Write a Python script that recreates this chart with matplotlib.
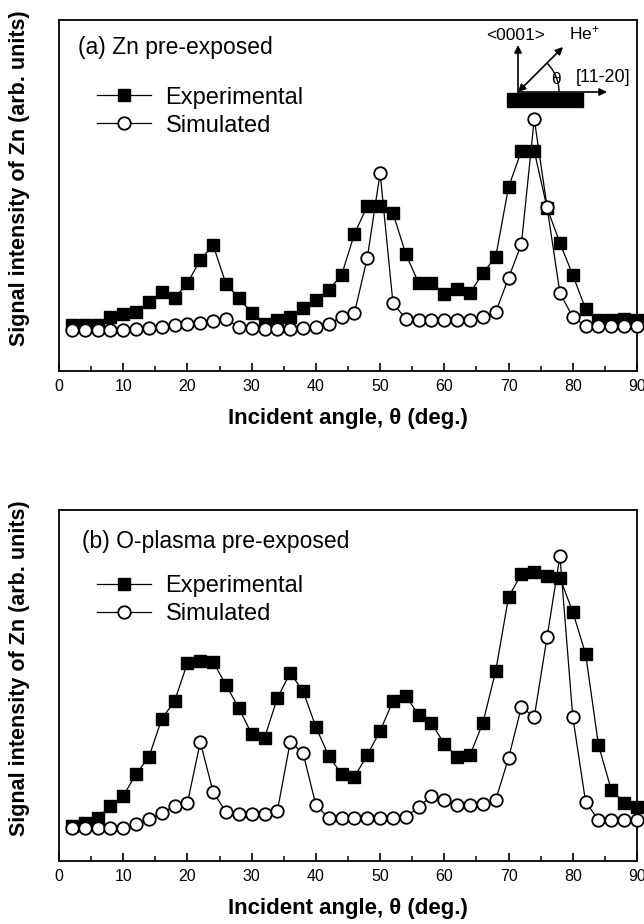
import matplotlib
matplotlib.use("Agg")
import matplotlib.pyplot as plt
from matplotlib.lines import Line2D
from matplotlib.patches import Rectangle, Arc
from matplotlib.ticker import MultipleLocator

# ---------------- data ----------------
angles = [2, 4, 6, 8, 10, 12, 14, 16, 18, 20,
          22, 24, 26, 28, 30, 32, 34, 36, 38, 40,
          42, 44, 46, 48, 50, 52, 54, 56, 58, 60,
          62, 64, 66, 68, 70, 72, 74, 76, 78, 80,
          82, 84, 86, 88, 90]

exp_a = [46, 46, 46, 54, 57, 59, 69, 79, 73, 88,
         111, 126, 87, 73, 58, 47, 51, 54, 63, 71,
         81, 96, 137, 165, 165, 158, 117, 88, 88, 77,
         82, 78, 98, 114, 184, 220, 220, 163, 128, 96,
         62, 51, 51, 52, 51]
sim_a = [41, 41, 41, 41, 41, 42, 43, 44, 46, 47,
         48, 50, 52, 44, 43, 42, 42, 42, 43, 44,
         47, 54, 58, 113, 198, 68, 52, 51, 51, 51,
         51, 51, 54, 59, 93, 127, 252, 164, 78, 54,
         45, 45, 45, 45, 45]

exp_b = [35, 38, 43, 55, 65, 87, 104, 142, 160, 198,
         200, 199, 176, 153, 127, 123, 163, 188, 170, 134,
         105, 87, 84, 106, 130, 160, 165, 146, 138, 117,
         104, 106, 138, 190, 264, 287, 289, 285, 283, 249,
         207, 116, 71, 58, 54]
sim_b = [33, 33, 33, 33, 33, 37, 42, 48, 55, 58,
         119, 69, 49, 47, 47, 47, 50, 119, 108, 56,
         43, 43, 43, 43, 43, 43, 44, 54, 65, 61,
         56, 56, 57, 61, 103, 154, 144, 224, 305, 144,
         59, 41, 41, 41, 41]

xticks = [0, 10, 20, 30, 40, 50, 60, 70, 80, 90]
xlabel = "Incident angle, θ (deg.)"
ylabel = "Signal intensity of Zn (arb. units)"
panel_titles = ["(a) Zn pre-exposed", "(b) O-plasma pre-exposed"]
legend_labels = ["Experimental", "Simulated"]

# ---------------- style ----------------
plt.rcParams['font.family'] = ['Liberation Sans', 'DejaVu Sans']
plt.rcParams['mathtext.default'] = 'regular'

W, H = 644, 924
fig = plt.figure(figsize=(W / 100, H / 100), dpi=100)


def add_ax(top_px, bottom_px):
    return fig.add_axes([59 / W, 1 - bottom_px / H, 578 / W, (bottom_px - top_px) / H])


ax_a = add_ax(20, 371)
ax_b = add_ax(510, 861)

exp_style = dict(color='black', lw=0.9, marker='s', ms=8.5, mfc='black', mec='black')
sim_style = dict(color='black', lw=0.9, marker='o', ms=9, mfc='white', mec='black', mew=1.3)

for ax, ye, ys, title, ty, tx in [(ax_a, exp_a, sim_a, panel_titles[0], 0.923, 0.033),
                                   (ax_b, exp_b, sim_b, panel_titles[1], 0.909, 0.040)]:
    ax.plot(angles, ye, clip_on=False, zorder=3, **exp_style)
    ax.plot(angles, ys, clip_on=False, zorder=4, **sim_style)
    ax.set_xlim(0, 90)
    ax.set_ylim(0, 351)
    ax.set_yticks([])
    ax.set_xticks(xticks)
    ax.xaxis.set_minor_locator(MultipleLocator(5))
    ax.tick_params(axis='x', which='major', direction='in', length=6, width=1.2,
                   labelsize=11.5, pad=6, top=False)
    ax.tick_params(axis='x', which='minor', direction='in', length=3.5, width=1.1, top=False)
    for s in ax.spines.values():
        s.set_linewidth(1.3)
    ax.set_ylabel(ylabel, fontsize=15.5, fontweight='bold')
    ax.yaxis.set_label_coords(-0.05, 0.55)
    ax.set_xlabel(xlabel, fontsize=16, fontweight='bold')
    ax.xaxis.set_label_coords(0.5, -0.105)
    ax.text(tx, ty, title, transform=ax.transAxes, fontsize=16.5, va='center', ha='left')
    handles = [Line2D([], [], **exp_style), Line2D([], [], **sim_style)]
    ax.legend(handles, legend_labels, loc='upper left', bbox_to_anchor=(0.066, 0.81 if ax is ax_a else 0.815),
              frameon=False, fontsize=17, handlelength=2.3, handletextpad=0.6,
              labelspacing=0.25, borderpad=0, borderaxespad=0, numpoints=1)

# ---------------- geometry sketch in panel (a) ----------------
fx = lambda x: (x - 59) / 578
fy = lambda y: (371 - y) / 351
ax = ax_a
ax.add_patch(Rectangle((fx(507), fy(107)), fx(583) - fx(507), fy(93) - fy(107),
                       transform=ax.transAxes, facecolor='black', edgecolor='black', zorder=5))
arrow = dict(lw=1.2, color='black', mutation_scale=11, shrinkA=0, shrinkB=0)
ax.annotate('', xy=(fx(607), fy(92)), xytext=(fx(518), fy(92)), xycoords='axes fraction',
            arrowprops=dict(arrowstyle='-|>', **arrow), zorder=6)
ax.annotate('', xy=(fx(518), fy(45)), xytext=(fx(518), fy(92)), xycoords='axes fraction',
            arrowprops=dict(arrowstyle='-|>', **arrow), zorder=6)
ax.annotate('', xy=(fx(563), fy(47)), xytext=(fx(518), fy(92)), xycoords='axes fraction',
            arrowprops=dict(arrowstyle='<|-|>', **arrow), zorder=6)
ax.add_patch(Arc((fx(518), fy(92)), 2 * 41 / 578, 2 * 41 / 351, theta1=0, theta2=58.7,
                 transform=ax.transAxes, color='black', lw=1.0))
ax.text(fx(516), fy(35), "<0001>", transform=ax.transAxes, fontsize=12.5, ha='center', va='center')
ax.text(fx(584), fy(33), "He$^{+}$", transform=ax.transAxes, fontsize=12.5, ha='center', va='center')
ax.text(fx(556), fy(79), "θ", transform=ax.transAxes, fontsize=12.5, ha='center', va='center')
ax.text(fx(603), fy(78), "[11-20]", transform=ax.transAxes, fontsize=13, ha='center', va='center')

fig.savefig("out.png", dpi=100)
